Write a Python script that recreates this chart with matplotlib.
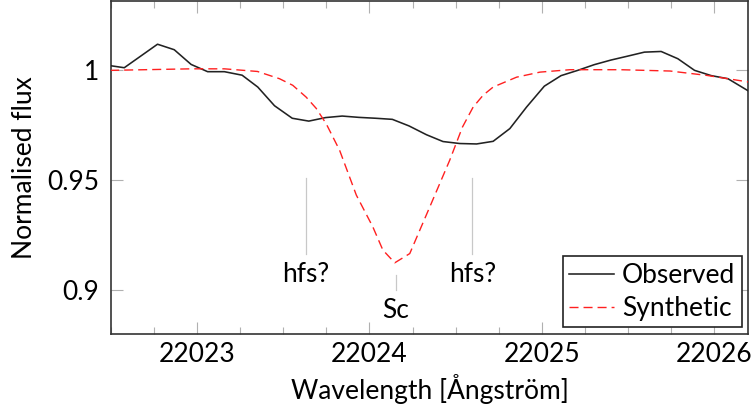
import matplotlib
matplotlib.use("Agg")
import matplotlib.pyplot as plt
from matplotlib.ticker import MultipleLocator, FixedLocator

# Observed spectrum around the Sc line
obs_wl = [22022.499, 22022.577, 22022.770, 22022.867, 22022.965, 22023.061,
          22023.158, 22023.261, 22023.352, 22023.449, 22023.552, 22023.648,
          22023.745, 22023.842, 22023.939, 22024.036, 22024.133, 22024.230,
          22024.331, 22024.427, 22024.524, 22024.622, 22024.718, 22024.815,
          22024.912, 22025.015, 22025.112, 22025.209, 22025.305, 22025.402,
          22025.500, 22025.596, 22025.693, 22025.790, 22025.887, 22025.984,
          22026.081, 22026.200]
obs_flux = [1.0019, 1.0010, 1.0117, 1.0092, 1.0025, 0.9992,
            0.9992, 0.9976, 0.9922, 0.9837, 0.9780, 0.9767,
            0.9783, 0.9790, 0.9784, 0.9780, 0.9775, 0.9745,
            0.9705, 0.9674, 0.9665, 0.9663, 0.9675, 0.9733,
            0.9831, 0.9926, 0.9974, 0.9998, 1.0024, 1.0045,
            1.0063, 1.0081, 1.0084, 1.0051, 0.9998, 0.9974,
            0.9960, 0.9904]

# Synthetic spectrum
syn_wl = [22022.495, 22022.966, 22023.158, 22023.350, 22023.478, 22023.555,
          22023.633, 22023.691, 22023.749, 22023.827, 22023.924, 22024.020,
          22024.078, 22024.147, 22024.234, 22024.292, 22024.350, 22024.466,
          22024.540, 22024.602, 22024.660, 22024.718, 22024.854, 22024.990,
          22025.164, 22025.455, 22025.745, 22025.959, 22026.201]
syn_flux = [0.9998, 1.0005, 1.0005, 0.9993, 0.9960, 0.9930,
            0.9876, 0.9825, 0.9755, 0.9634, 0.9430, 0.9285,
            0.9180, 0.9122, 0.9164, 0.9270, 0.9376, 0.9589,
            0.9740, 0.9831, 0.9885, 0.9922, 0.9967, 0.9990,
            1.0001, 1.0001, 0.9995, 0.9975, 0.9945]

# Line identifications: position, marker top/bottom, label height
line_labels = ["hfs?", "Sc", "hfs?"]
line_wl = [22023.632, 22024.152, 22024.598]
mark_top = [0.9507, 0.9066, 0.9507]
mark_bottom = [0.9161, 0.8998, 0.9161]
label_y = [0.9070, 0.8903, 0.9070]

plt.rcParams["font.family"] = ["Lato", "DejaVu Sans"]
plt.rcParams["font.size"] = 19

fig = plt.figure(figsize=(7.53, 4.20), dpi=100)
ax = fig.add_axes([0.1474, 0.2048, 0.8466, 0.7940])

ax.plot(obs_wl, obs_flux, color="#222222", lw=1.15, label="Observed", zorder=3)
ax.plot(syn_wl, syn_flux, color="#ff2020", lw=1.0, dashes=(6.5, 3.6),
        label="Synthetic", zorder=3)

for lab, x, top, bot, ty in zip(line_labels, line_wl, mark_top, mark_bottom, label_y):
    ax.plot([x, x], [bot, top], color="#c8c8c8", lw=0.9, zorder=1)
    ax.text(x, ty, lab, ha="center", va="center")

ax.set_xlim(22022.5, 22026.2)
ax.set_ylim(0.8798, 1.0316)
ax.xaxis.set_major_locator(FixedLocator([22023, 22024, 22025, 22026]))
ax.xaxis.set_minor_locator(MultipleLocator(0.25))
ax.yaxis.set_major_locator(FixedLocator([0.9, 0.95, 1.0]))
ax.set_yticklabels(["0.9", "0.95", "1"])
ax.set_xticklabels(["22023", "22024", "22025", "22026"])

ax.tick_params(which="both", direction="in", top=True, right=True, color="#b0b0b0")
ax.tick_params(which="major", length=8.5, width=0.8)
ax.tick_params(which="minor", length=5, width=0.8)
ax.tick_params(axis="x", which="major", pad=6)
ax.tick_params(axis="y", which="major", pad=8.5)

for s in ax.spines.values():
    s.set_color("#333333")
    s.set_linewidth(1.2)

ax.set_xlabel("Wavelength [Ångström]", labelpad=5)
ax.set_ylabel("Normalised flux", labelpad=7)

leg = ax.legend(loc="lower right", handlelength=1.7, handletextpad=0.3,
                borderpad=0.25, labelspacing=0.3, borderaxespad=0.25,
                fancybox=False, framealpha=1)
leg.get_frame().set_edgecolor("#222222")
leg.get_frame().set_linewidth(1.2)

fig.savefig("out.png", dpi=100)
